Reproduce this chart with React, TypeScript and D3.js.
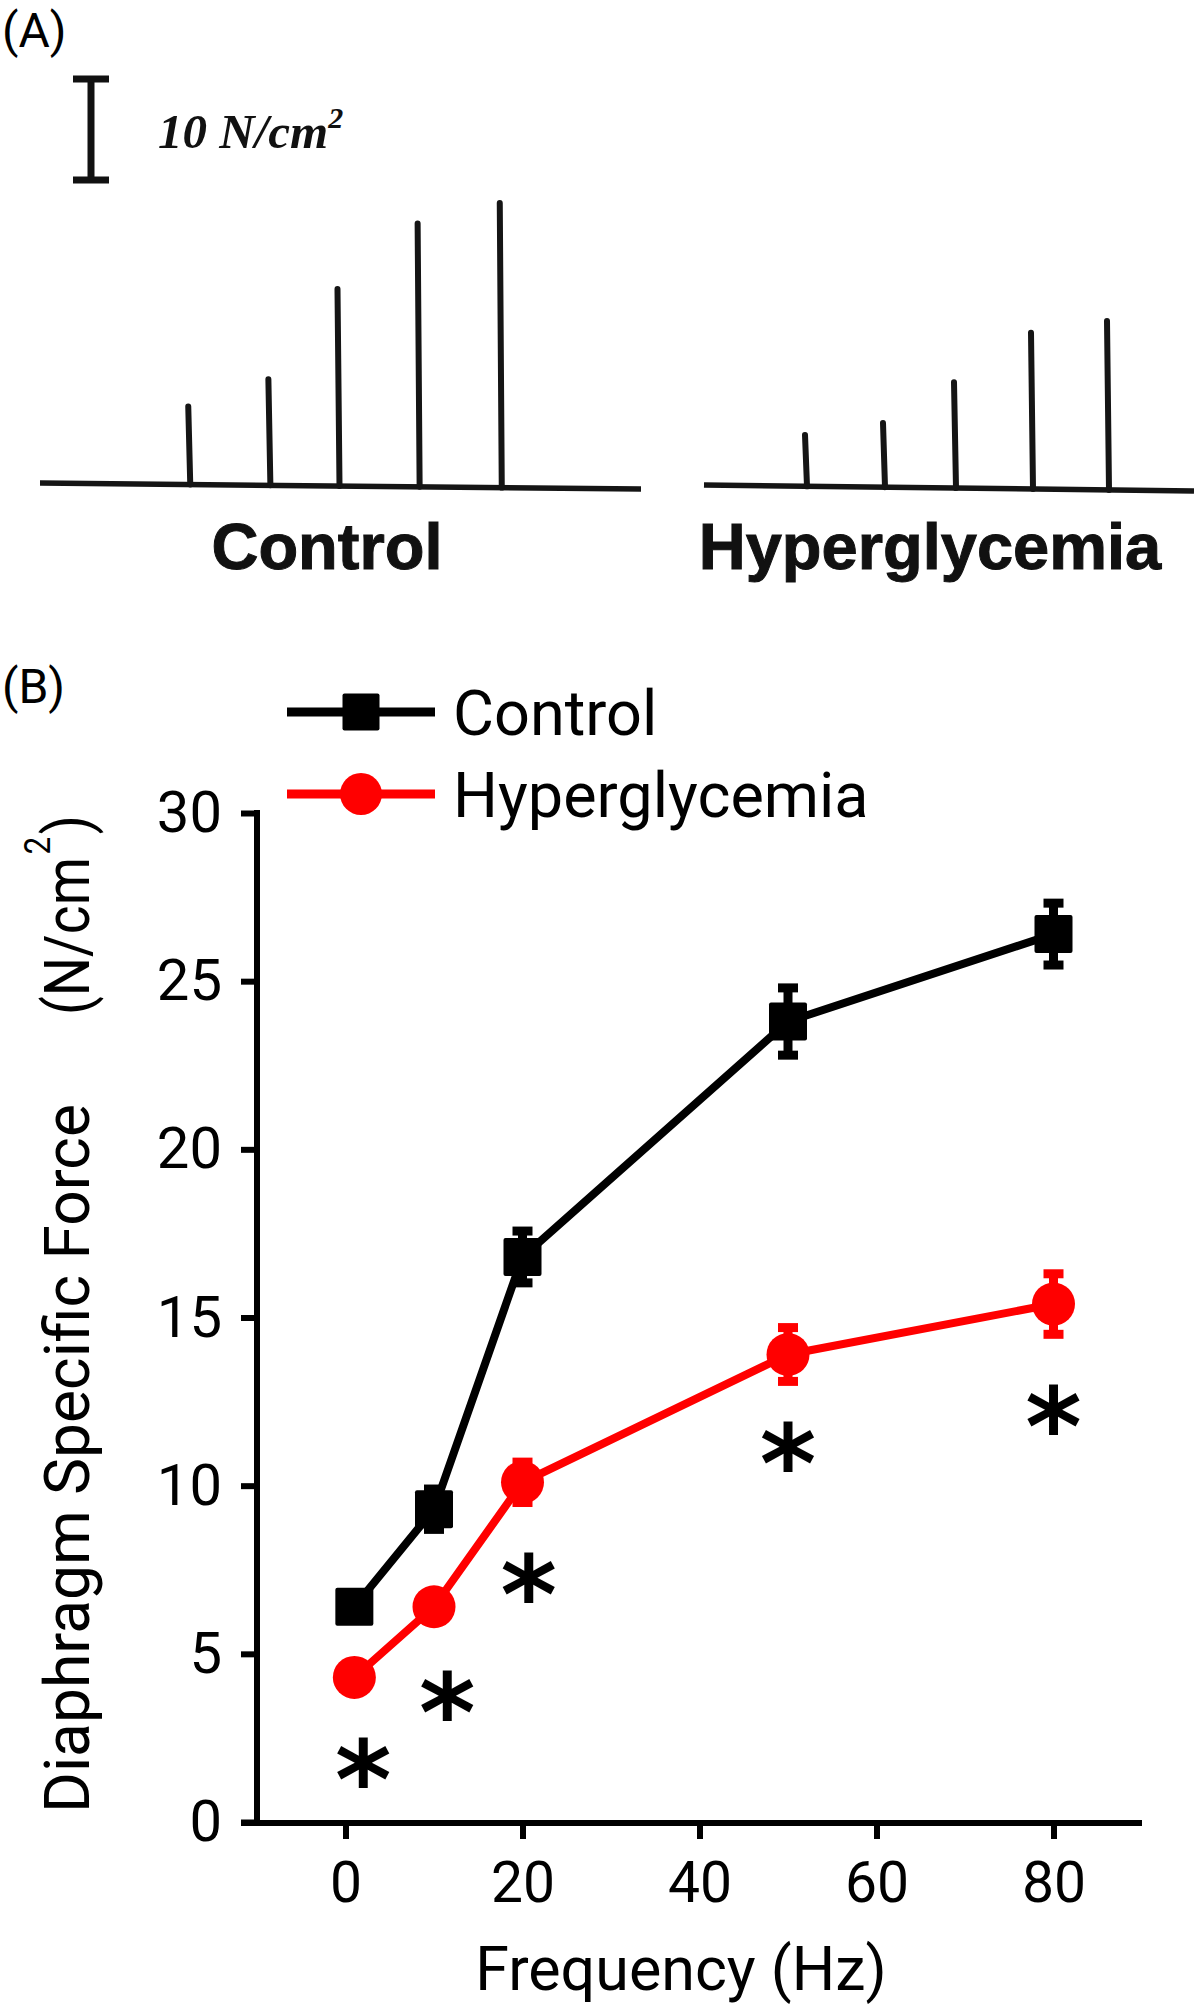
import { useEffect, useRef } from "react"
import * as d3 from "d3"

// ---- panel B: force-frequency data (N/cm2)
const frequencies = [1, 10, 20, 50, 80]
const controlForce = [6.4, 9.3, 16.8, 23.8, 26.4]
const controlSem = [0.3, 0.6, 0.77, 1.0, 0.92]
const hyperForce = [4.3, 6.4, 10.1, 13.9, 15.4]
const hyperSem = [0.3, 0.4, 0.6, 0.8, 0.9]
// significance markers (frequency, force level of the asterisk)
const sigFreq = [2, 11.5, 20.7, 50, 80]
const sigLevel = [1.9, 3.9, 7.4, 11.3, 12.4]
const xTicks = [0, 20, 40, 60, 80]
const yTicks = [0, 5, 10, 15, 20, 25, 30]
const seriesNames = ["Control", "Hyperglycemia"]

// ---- panel A: raw traces, peak force of each contraction (N/cm2)
const controlPeaks = [7.3, 9.9, 18.4, 24.6, 26.6]
const hyperPeaks = [4.8, 6.0, 9.9, 14.6, 15.8]
// stimulus onset along each trace (s)
const controlStimTimes = [1.5, 2.3, 2.99, 3.79, 4.61]
const hyperStimTimes = [1.03, 1.81, 2.52, 3.29, 4.05]
const traceDurations = [6.0, 4.9]

const W = 1200
const H = 2008
const RED = "#ff0000"
const SANS = "Roboto, 'Open Sans', sans-serif"

type Sel = d3.Selection<SVGSVGElement, unknown, null, undefined>

function drawTraces(svg: Sel) {
  const g = svg.append("g")
  const bar = d3.scaleLinear().domain([0, 10]).range([0, 107])

  // (A) label
  g.append("text")
    .attr("x", 2)
    .attr("y", 47)
    .attr("font-family", SANS)
    .attr("font-size", 48)
    .text("(A)")

  // scale bar
  const barX = 91
  const barTop = 76
  g.append("line")
    .attr("x1", barX).attr("x2", barX)
    .attr("y1", barTop).attr("y2", barTop + bar(10))
    .attr("stroke", "#111").attr("stroke-width", 7)
  ;[barTop + 3, barTop + bar(10) - 3].forEach((yy) => {
    g.append("line")
      .attr("x1", barX - 18).attr("x2", barX + 18)
      .attr("y1", yy).attr("y2", yy)
      .attr("stroke", "#111").attr("stroke-width", 7)
  })
  const sbText = g.append("text")
    .attr("x", 158)
    .attr("y", 148)
    .attr("font-family", "'Liberation Serif', 'Times New Roman', serif")
    .attr("font-weight", "bold")
    .attr("font-style", "italic")
    .attr("font-size", 49)
    .attr("fill", "#111")
  sbText.append("tspan").text("10 N/cm")
  sbText.append("tspan").attr("font-size", 30).attr("dy", -20).text("2")

  const traces = [
    { peaks: controlPeaks, times: controlStimTimes, dur: traceDurations[0], x0: 40, x1: 641, base: 485, labelX: 327 },
    { peaks: hyperPeaks, times: hyperStimTimes, dur: traceDurations[1], x0: 704, x1: 1194, base: 487, labelX: 930 },
  ]

  traces.forEach((tr, i) => {
    const t = d3.scaleLinear().domain([0, tr.dur]).range([tr.x0, tr.x1])
    const drift = d3.scaleLinear().domain([0, tr.dur]).range([tr.base - 2, tr.base + 4])

    g.append("line")
      .attr("x1", t(0)).attr("y1", drift(0))
      .attr("x2", t(tr.dur)).attr("y2", drift(tr.dur))
      .attr("stroke", "#151515").attr("stroke-width", 5.5)

    g.selectAll(null)
      .data(tr.peaks)
      .enter()
      .append("line")
      .attr("x1", (_, j) => t(tr.times[j]))
      .attr("y1", (_, j) => drift(tr.times[j]))
      .attr("x2", (_, j) => t(tr.times[j]) - 2)
      .attr("y2", (d, j) => drift(tr.times[j]) - bar(d))
      .attr("stroke", "#151515")
      .attr("stroke-width", 6)
      .attr("stroke-linecap", "round")

    g.append("text")
      .attr("x", tr.labelX)
      .attr("y", 569)
      .attr("text-anchor", "middle")
      .attr("font-family", "'Liberation Sans', Arial, sans-serif")
      .attr("font-weight", "bold")
      .attr("font-size", 65)
      .attr("fill", "#111")
      .attr("stroke", "#111")
      .attr("stroke-width", 1)
      .text(seriesNames[i])
  })
}

function drawForceFrequency(svg: Sel) {
  const g = svg.append("g")
  const x = d3.scaleLinear().domain([-10, 90]).range([257, 1142])
  const y = d3.scaleLinear().domain([0, 30]).range([1822, 813])

  // (B) label
  g.append("text")
    .attr("x", 2)
    .attr("y", 703)
    .attr("font-family", SANS)
    .attr("font-size", 48)
    .text("(B)")

  // y axis
  const yAxis = g.append("g")
    .attr("transform", `translate(${x(-10)},0)`)
    .call(d3.axisLeft(y).tickValues(yTicks).tickSize(16).tickPadding(19).tickSizeOuter(0))
  yAxis.select(".domain").remove()
  yAxis.selectAll(".tick line").attr("stroke", "#000").attr("stroke-width", 6)
  yAxis.selectAll(".tick text")
    .attr("fill", "#000")
    .attr("font-family", SANS)
    .attr("font-size", 58)
  g.append("line")
    .attr("x1", x(-10)).attr("x2", x(-10))
    .attr("y1", y(30) - 3).attr("y2", y(0) + 4)
    .attr("stroke", "#000").attr("stroke-width", 6)

  // x axis
  const xAxis = g.append("g")
    .attr("transform", `translate(0,${y(0) + 1})`)
    .call(d3.axisBottom(x).tickValues(xTicks).tickSize(16).tickPadding(23).tickSizeOuter(0))
  xAxis.select(".domain").remove()
  xAxis.selectAll(".tick line").attr("stroke", "#000").attr("stroke-width", 6)
  xAxis.selectAll(".tick text")
    .attr("fill", "#000")
    .attr("font-family", SANS)
    .attr("font-size", 57)
  g.append("line")
    .attr("x1", x(-10) - 16).attr("x2", x(90))
    .attr("y1", y(0) + 1).attr("y2", y(0) + 1)
    .attr("stroke", "#000").attr("stroke-width", 6)

  // axis titles
  g.append("text")
    .attr("x", 681)
    .attr("y", 1990)
    .attr("text-anchor", "middle")
    .attr("font-family", SANS)
    .attr("font-size", 61)
    .text("Frequency (Hz)")

  g.append("text")
    .attr("transform", "translate(89,1813) rotate(-90)")
    .attr("font-family", SANS)
    .attr("font-size", 63)
    .attr("textLength", 709)
    .attr("lengthAdjust", "spacingAndGlyphs")
    .text("Diaphragm Specific Force")
  const unit = g.append("text")
    .attr("transform", "translate(89,1015) rotate(-90)")
    .attr("font-family", SANS)
    .attr("font-size", 63)
    .attr("textLength", 200)
    .attr("lengthAdjust", "spacingAndGlyphs")
  unit.append("tspan").text("(N/cm")
  unit.append("tspan").attr("font-size", 36).attr("dy", -39).attr("dx", 3).text("2")
  unit.append("tspan").attr("dy", 39).attr("dx", 3).text(")")

  const series = [
    { values: controlForce, sem: controlSem, color: "#000", shape: "square" },
    { values: hyperForce, sem: hyperSem, color: RED, shape: "circle" },
  ]

  const line = d3.line<number>()
    .x((_, i) => x(frequencies[i]))
    .y((d) => y(d))

  series.forEach((s) => {
    g.append("path")
      .datum(s.values)
      .attr("d", line)
      .attr("fill", "none")
      .attr("stroke", s.color)
      .attr("stroke-width", 8)
      .attr("stroke-linejoin", "round")

    // error bars
    s.values.forEach((v, i) => {
      const cx = x(frequencies[i])
      const top = y(v + s.sem[i])
      const bot = y(v - s.sem[i])
      g.append("line")
        .attr("x1", cx).attr("x2", cx).attr("y1", top).attr("y2", bot)
        .attr("stroke", s.color).attr("stroke-width", 9)
      ;[top, bot].forEach((yy) => {
        g.append("line")
          .attr("x1", cx - 10).attr("x2", cx + 10).attr("y1", yy).attr("y2", yy)
          .attr("stroke", s.color).attr("stroke-width", 9)
      })
    })

    // markers
    if (s.shape === "square") {
      g.selectAll(null)
        .data(s.values)
        .enter()
        .append("rect")
        .attr("x", (_, i) => x(frequencies[i]) - 19)
        .attr("y", (d) => y(d) - 19)
        .attr("width", 38)
        .attr("height", 38)
        .attr("rx", 2)
        .attr("fill", s.color)
    } else {
      g.selectAll(null)
        .data(s.values)
        .enter()
        .append("circle")
        .attr("cx", (_, i) => x(frequencies[i]))
        .attr("cy", (d) => y(d))
        .attr("r", 21.5)
        .attr("fill", s.color)
    }
  })

  // significance asterisks
  g.selectAll(null)
    .data(sigLevel)
    .enter()
    .append("text")
    .attr("x", (_, i) => x(sigFreq[i]))
    .attr("y", (d) => y(d) + 60)
    .attr("text-anchor", "middle")
    .attr("font-family", "'DejaVu Sans', sans-serif")
    .attr("font-weight", "bold")
    .attr("font-size", 108)
    .attr("fill", "#000")
    .text("*")

  // legend
  const legend = g.append("g")
  series.forEach((s, i) => {
    const ly = 712 + i * 82
    legend.append("line")
      .attr("x1", 287).attr("x2", 435).attr("y1", ly).attr("y2", ly)
      .attr("stroke", s.color).attr("stroke-width", 9)
    if (s.shape === "square") {
      legend.append("rect")
        .attr("x", 361 - 18.5).attr("y", ly - 18.5)
        .attr("width", 37).attr("height", 37).attr("rx", 2)
        .attr("fill", s.color)
    } else {
      legend.append("circle")
        .attr("cx", 361).attr("cy", ly).attr("r", 21)
        .attr("fill", s.color)
    }
    legend.append("text")
      .attr("x", 453)
      .attr("y", ly + 23)
      .attr("font-family", SANS)
      .attr("font-size", 63)
      .text(seriesNames[i])
  })
}

export default function App() {
  const ref = useRef<SVGSVGElement>(null)

  useEffect(() => {
    if (!ref.current) return
    const svg = d3.select(ref.current)
    svg.selectAll("*").remove()
    drawTraces(svg)
    drawForceFrequency(svg)
  }, [])

  return (
    <div style={{ position: "absolute", left: 0, top: 0 }}>
      <svg ref={ref} width={W} height={H} style={{ display: "block", background: "#fff" }} />
    </div>
  )
}
